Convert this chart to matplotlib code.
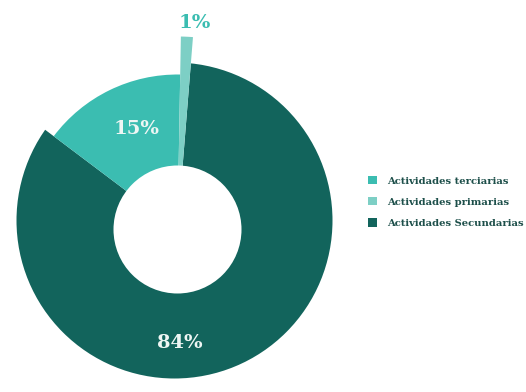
import matplotlib
matplotlib.use("Agg")
import matplotlib.pyplot as plt
from matplotlib.patches import Circle, Patch, Wedge

# datos
categorias = ["Actividades terciarias", "Actividades primarias", "Actividades Secundarias"]
porcentajes = [15, 1, 84]
etiquetas = ["15%", "1%", "84%"]
colores = ["#3bbdb1", "#7dcfc5", "#12645c"]

fig = plt.figure(figsize=(5.26, 3.92), dpi=100)
ax = fig.add_axes([0, 0, 1, 1])

# centro del agujero y del anillo exterior (coordenadas en pixeles, y hacia arriba)
centro = (177.5, 162.5)
centro_ext = (174.5, 171.5)

wedges, _ = ax.pie(porcentajes, colors=colores, center=centro, radius=155,
                   startangle=143, counterclock=False, frame=True)
for w in wedges:
    w.set_zorder(3)

# la porcion 84% tiene su borde exterior algo desplazado: circulo oscuro + mascara blanca
wedges[2].set_visible(False)
ax.add_patch(Circle(centro_ext, 158, facecolor=colores[2], edgecolor="none", zorder=1))
t_ini = min(wedges[0].theta1, wedges[1].theta1)
t_fin = max(wedges[0].theta2, wedges[1].theta2)
ax.add_patch(Wedge(centro, 260, t_ini, t_fin, facecolor="white", edgecolor="none", zorder=2))

# la porcion 1% sobresale
wedges[1].set_radius(193)

# agujero
ax.add_patch(Circle(centro, 64, facecolor="white", edgecolor="none", zorder=5))

ax.set_xlim(0, 526)
ax.set_ylim(0, 392)
ax.set_aspect("equal")
ax.axis("off")

# etiquetas de porcentaje
fuente = dict(family="DejaVu Serif", weight="bold", fontsize=14)
ax.text(137, 392 - 129, etiquetas[0], color="#eef6f4", ha="center", va="center", zorder=6, **fuente)
ax.text(195, 392 - 23, etiquetas[1], color="#3bbdb1", ha="center", va="center", zorder=6, **fuente)
ax.text(180, 392 - 343, etiquetas[2], color="#eef6f4", ha="center", va="center", zorder=6, **fuente)

manejadores = [Patch(facecolor=c, edgecolor="none") for c in colores]
leg = ax.legend(manejadores, categorias, loc="center left",
                bbox_to_anchor=(363 / 526, 1 - 202 / 392), frameon=False,
                prop=dict(family="DejaVu Serif", weight="bold", size=7.2),
                labelcolor="#1d4f4a", handlelength=0.9, handleheight=0.9,
                handletextpad=1.0, labelspacing=1.15, borderpad=0)

fig.savefig("out.png", dpi=100)
